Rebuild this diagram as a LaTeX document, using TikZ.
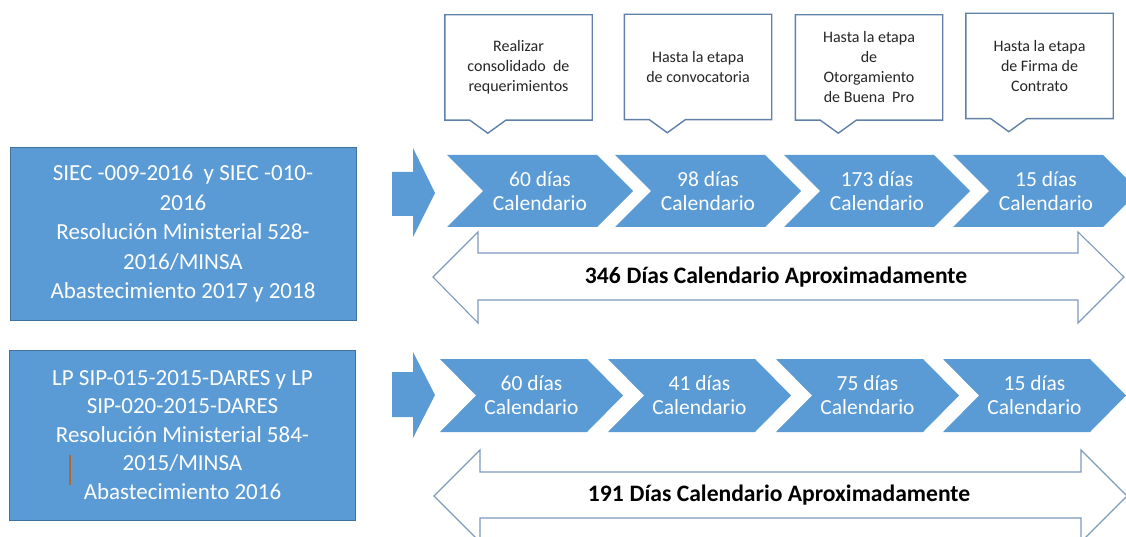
\documentclass[tikz,border=0pt]{standalone}
\usepackage{fontspec}
\setmainfont{Carlito}
\usetikzlibrary{calc}

\definecolor{boxblue}{RGB}{91,155,213}
\definecolor{boxedge}{RGB}{65,113,156}
\definecolor{noteedge}{RGB}{96,128,168}
\definecolor{spanedge}{RGB}{125,155,192}
\definecolor{notetext}{RGB}{38,38,38}
\definecolor{markbar}{RGB}{181,102,42}

\begin{document}
\begin{tikzpicture}[x=1pt,y=-1pt,
  srcbox/.style={draw=boxedge, fill=boxblue, line width=1pt, text=white,
    font=\fontsize{23}{29.5}\selectfont, align=center, inner sep=0pt,
    minimum width=346pt, minimum height=172pt},
  notebox/.style={inner sep=0pt, minimum width=147pt, minimum height=105pt,
    text=notetext, font=\fontsize{16}{20}\selectfont, align=center},
  noteline/.style={draw=noteedge, line width=1.4pt, line join=miter},
  steptext/.style={text=white, font=\fontsize{21.5}{24}\selectfont, align=center, inner sep=0pt},
  stepfill/.style={fill=boxblue},
  pusharrow/.style={fill=boxblue},
  spanarrow/.style={draw=spanedge, line width=1.1pt, fill=white},
  spantext/.style={text=black, font=\bfseries\fontsize{23.6}{26}\selectfont, inner sep=0pt}
]
\fill[white] (0,0) rectangle (1126,537);
\useasboundingbox (0,0) rectangle (1126,537);

% ---------- stage notes on top ----------
\node[notebox] (n1) at (518.5,67.5) {Realizar\\consolidado\ \ de\\requerimientos};
\node[notebox] (n2) at (698,67)    {Hasta la etapa\\de convocatoria};
\node[notebox] (n3) at (869,67.5)  {Hasta la etapa\\de\\Otorgamiento\\de Buena\ \ Pro};
\node[notebox] (n4) at (1039.5,66) {Hasta la etapa\\de Firma de\\Contrato};
\foreach \n in {n1,n2,n3,n4}{
  \draw[noteline] (\n.north west) -- (\n.north east) -- (\n.south east)
    -- ($(\n.south west)+(61,0)$) -- ($(\n.south west)+(43,13)$)
    -- ($(\n.south west)+(25,0)$) -- (\n.south west) -- cycle;
}

% ---------- first procurement ----------
\node[srcbox] (s1) at (183,234) {SIEC -009-2016\ \ y SIEC -010-\\2016\\Resolución Ministerial 528-\\2016/MINSA\\Abastecimiento 2017 y 2018};

\fill[pusharrow] (392,172) -- (413,172) -- (413,148) -- (435,193)
  -- (413,237) -- (413,216) -- (392,216) -- cycle;

\foreach \bx/\txt [count=\i] in {447/60 días, 615/98 días, 784/173 días, 953/15 días}{
  \fill[stepfill] (\bx,155) -- (\bx+150,155) -- (\bx+186,191) -- (\bx+150,227)
    -- (\bx,227) -- (\bx+36,191) -- cycle;
  \node[steptext] (a\i) at (\bx+93,191) {\txt\\Calendario};
}

\draw[spanarrow] (433,277) -- (478,232) -- (478,253) -- (1078,253) -- (1078,232)
  -- (1124,277) -- (1078,323) -- (1078,300) -- (478,300) -- (478,323) -- cycle;
\node[spantext] (t1) at (776,277) {346\hspace{6pt}Días Calendario Aproximadamente};

% ---------- second procurement ----------
\node[srcbox, minimum height=170pt, font=\fontsize{23}{28.5}\selectfont] (s2) at (182.5,435)
  {LP SIP-015-2015-DARES y LP\\SIP-020-2015-DARES\\Resolución Ministerial 584-\\2015/MINSA\\Abastecimiento 2016};
\draw[markbar, line width=2.6pt] (70,455) -- (70,485);

\fill[pusharrow] (392,372) -- (413,372) -- (413,352) -- (435,395)
  -- (413,438) -- (413,417) -- (392,417) -- cycle;

\foreach \bx/\txt [count=\i] in {440/60 días, 608/41 días, 776/75 días, 943/15 días}{
  \fill[stepfill] (\bx,359) -- (\bx+147,359) -- (\bx+183,395.5) -- (\bx+147,432)
    -- (\bx,432) -- (\bx+36,395.5) -- cycle;
  \node[steptext] (b\i) at (\bx+91.5,395) {\txt\\Calendario};
}

\draw[spanarrow] (434,496) -- (480,450) -- (480,472) -- (1081,472) -- (1081,450)
  -- (1127,496) -- (1081,542) -- (1081,518) -- (480,518) -- (480,542) -- cycle;
\node[spantext] (t2) at (779,495) {191\hspace{6pt}Días Calendario Aproximadamente};
\end{tikzpicture}
\end{document}
